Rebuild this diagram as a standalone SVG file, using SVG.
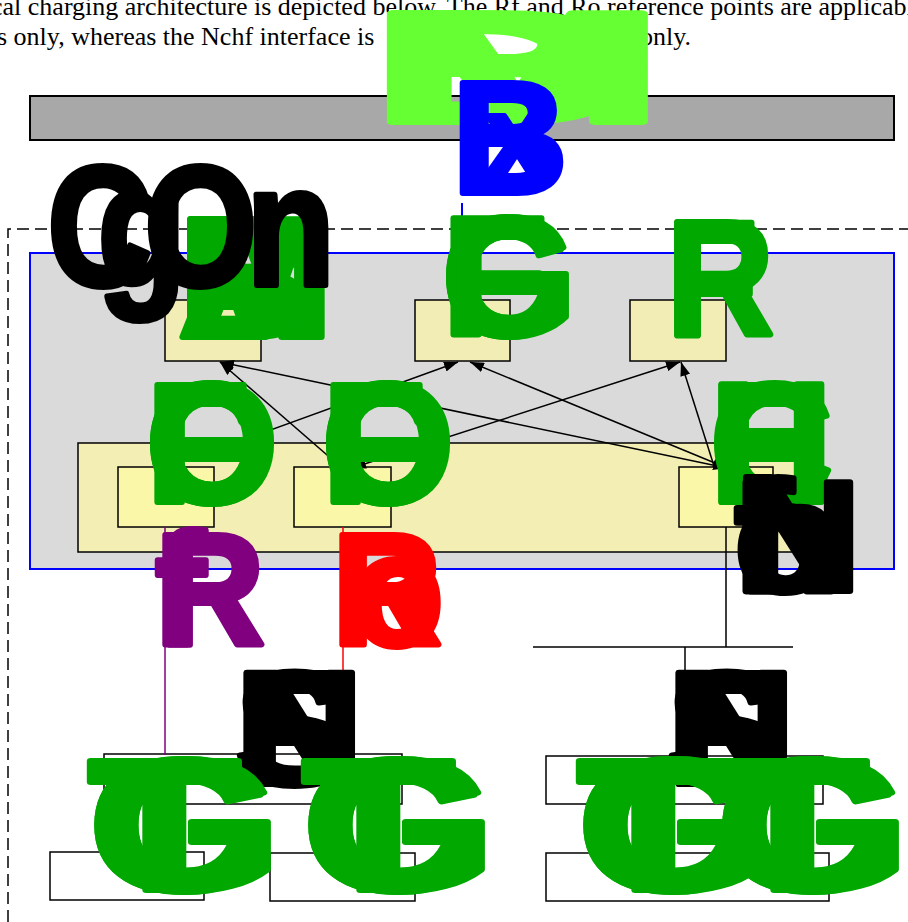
<svg xmlns="http://www.w3.org/2000/svg" width="908" height="922" viewBox="0 0 908 922">
<style>
.intro{font-family:"Liberation Serif","Times New Roman",serif;font-size:26px;fill:#000}
.big{font-family:"Liberation Sans",Arial,sans-serif;font-weight:bold;stroke-width:6;stroke-linejoin:round}
.box{stroke:#000;stroke-width:1.5}
.top{fill:#f2edb5}
.small{fill:#fbf7a8}
.white{fill:#fff}
.arr{stroke:#000;stroke-width:1.5;fill:none}
.green{fill:#00a800;stroke:#00a800}
.blk{fill:#000;stroke:#000}
</style>
<defs>
<marker id="ah" viewBox="0 0 14 10" refX="14" refY="5" markerWidth="14" markerHeight="10" markerUnits="userSpaceOnUse" orient="auto-start-reverse">
<path d="M0,0 L14,5 L0,10 z" fill="#000"/>
</marker>
<marker id="ahr" viewBox="0 0 14 10" refX="14" refY="5" markerWidth="14" markerHeight="10" markerUnits="userSpaceOnUse" orient="auto">
<path d="M0,0 L14,5 L0,10 z" fill="#f00"/>
</marker>
</defs>
<rect width="908" height="922" fill="#fff"/>
<g id="intro">
<text class="intro" x="-9" y="15">cal charging architecture is depicted below. The Rf and Ro reference points are applicable</text>
<text class="intro" x="-3" y="45">s only, whereas the Nchf interface is</text>
<text class="intro" x="640" y="45">only.</text>
</g>
<g id="billing-domain">
<rect x="30" y="96" width="864" height="44" fill="#a8a8a8" stroke="#000" stroke-width="2"/>
</g>
<g id="dashed-domain">
<path d="M8,922 V229 H908" fill="none" stroke="#000" stroke-width="1.5" stroke-dasharray="12 6"/>
</g>
<g id="ccs">
<rect x="30" y="253" width="864" height="316" fill="#dadada" stroke="#0000ff" stroke-width="2"/>
</g>
<g id="abmf"><rect class="box top" x="165" y="300" width="96" height="61"/></g>
<g id="cgf"><rect class="box top" x="415" y="300" width="95" height="61"/></g>
<g id="rf"><rect class="box top" x="630" y="300" width="96" height="61"/></g>
<g id="chf-outer"><rect class="box" x="78" y="443" width="720" height="109" fill="#f3efb4"/></g>
<g id="ocf1"><rect class="box small" x="118" y="467" width="96" height="60"/></g>
<g id="ocf2"><rect class="box small" x="294" y="467" width="97" height="60"/></g>
<g id="chf"><rect class="box small" x="679" y="467" width="94" height="60"/><rect x="743" y="503" width="30" height="24" fill="#9e9862"/></g>
<g id="ne-1"><rect class="box white" x="104" y="754" width="298" height="50"/></g>
<g id="ne-2"><rect class="box white" x="50" y="852" width="154" height="48"/></g>
<g id="ne-3"><rect class="box white" x="270" y="853" width="145" height="48"/></g>
<g id="ne-4"><rect class="box white" x="546" y="756" width="277" height="48"/></g>
<g id="ne-5"><rect class="box white" x="546" y="853" width="283" height="48"/></g>
<g id="connectors">
<line x1="462" y1="203" x2="462" y2="253" stroke="#0000ff" stroke-width="2"/>
<line class="arr" x1="166" y1="468" x2="458" y2="362" marker-end="url(#ah)"/>
<line class="arr" x1="220" y1="362" x2="342" y2="468" marker-start="url(#ah)" marker-end="url(#ah)"/>
<line class="arr" x1="220" y1="362" x2="727" y2="468" marker-start="url(#ah)" marker-end="url(#ah)"/>
<line class="arr" x1="470" y1="362" x2="727" y2="468" marker-start="url(#ah)" marker-end="url(#ah)"/>
<line class="arr" x1="352" y1="468" x2="680" y2="362" marker-start="url(#ah)" marker-end="url(#ah)"/>
<line class="arr" x1="714" y1="466" x2="681" y2="362" marker-end="url(#ah)"/>
<line x1="165" y1="527" x2="165" y2="755" stroke="#800080" stroke-width="1.5"/>
<line x1="343" y1="527" x2="343" y2="753" stroke="#f00" stroke-width="1.5" marker-end="url(#ahr)"/>
<path d="M726,527 V647 M533,647 H793 M685,647 V757" fill="none" stroke="#000" stroke-width="1.5"/>
</g>
<g id="labels">
<text class="big" font-size="158" fill="#66ff33" stroke="#66ff33" transform="translate(370,122) scale(2.24,1)" x="0 0 0">MBD</text>
<text class="big" font-size="160" fill="#0000ff" stroke="#0000ff" transform="translate(452,193)"><tspan x="0">B</tspan><tspan x="34" y="-18" font-size="112">x</tspan></text>
<text class="big green" font-size="170" transform="translate(178,337) scale(1.1,1)" x="0 0 0 0">ABMF</text>
<text class="big green" font-size="168" transform="translate(442,335) scale(1.03,1)" x="0 0 0">CGF</text>
<text class="big green" font-size="164" transform="translate(667,335) scale(0.9,1)" x="0 0">RF</text>
<text class="big blk" font-size="170" transform="translate(0,285) scale(0.85,1)" x="56 115 170 290">CgOn</text>
<text class="big green" font-size="170" transform="translate(146,502)" x="0 0 0">OCF</text>
<text class="big green" font-size="170" transform="translate(322,502)" x="0 0 0">OCF</text>
<text class="big green" font-size="170" transform="translate(710,502)" x="0 0 0">CHF</text>
<text class="big blk" font-size="158" transform="translate(734,591) scale(1.12,1)" x="0 0 0 0">Nchf</text>
<text class="big" font-size="160" fill="#800080" stroke="#800080" transform="translate(155,645) scale(0.95,1)" x="0 0">Rf</text>
<text class="big" font-size="160" fill="#f00" stroke="#f00" transform="translate(332,645) scale(0.95,1)" x="0 20">Ro</text>
<text class="big blk" font-size="162" transform="translate(235,784) scale(1.1,1)" x="0 0 0">NFS</text>
<text class="big blk" font-size="162" transform="translate(667,784) scale(1.1,1)" x="0 0 0">NFS</text>
<text class="big green" font-size="188" transform="translate(88,890) scale(1.33,1)" x="0 0 0">CTG</text>
<text class="big green" font-size="188" transform="translate(302,890) scale(1.33,1)" x="0 0 0">CTG</text>
<text class="big green" font-size="188" transform="translate(577,890) scale(1.33,1)" x="0 0 0">CTG</text>
<text class="big green" font-size="188" transform="translate(716,890) scale(1.33,1)" x="0 0 0">CTG</text>
</g>
</svg>
